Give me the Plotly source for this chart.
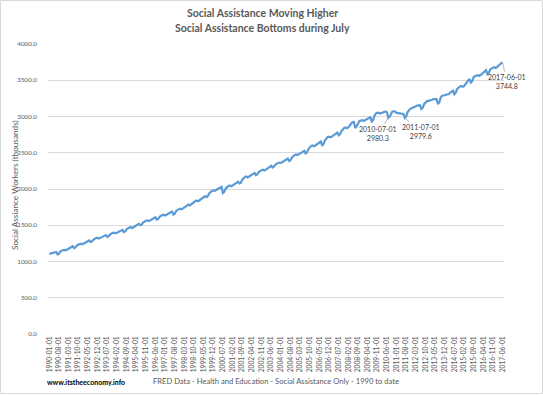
import plotly.graph_objects as go
import pandas as pd

# ---- data (monthly, thousands) ----
dates = [d.strftime("%Y-%m-%d") for d in pd.date_range("1990-01-01", "2017-06-01", freq="MS")]

v1990 = [1105, 1112, 1120, 1128, 1135, 1132, 1098, 1108, 1140, 1152, 1158, 1160]
v1991 = [1155, 1165, 1178, 1190, 1202, 1210, 1185, 1195, 1222, 1235, 1242, 1245]
v1992 = [1238, 1248, 1258, 1270, 1282, 1290, 1270, 1278, 1302, 1318, 1325, 1328]
v1993 = [1318, 1326, 1335, 1348, 1358, 1364, 1340, 1348, 1372, 1388, 1395, 1398]
v1994 = [1388, 1396, 1405, 1418, 1430, 1436, 1405, 1415, 1445, 1460, 1468, 1472]
v1995 = [1462, 1472, 1484, 1498, 1512, 1520, 1500, 1508, 1538, 1555, 1562, 1568]
v1996 = [1558, 1566, 1576, 1590, 1602, 1610, 1578, 1588, 1618, 1632, 1640, 1645]
v1997 = [1635, 1645, 1656, 1670, 1684, 1690, 1648, 1660, 1698, 1714, 1722, 1728]
v1998 = [1720, 1732, 1745, 1762, 1778, 1786, 1775, 1790, 1812, 1826, 1834, 1840]
v1999 = [1832, 1845, 1858, 1875, 1892, 1902, 1888, 1900, 1940, 1960, 1972, 1980]
v2000 = [1975, 1986, 1996, 2008, 2020, 2028, 1945, 1962, 2010, 2030, 2041, 2048]
v2001 = [2038, 2050, 2062, 2078, 2092, 2100, 2077, 2088, 2128, 2150, 2165, 2172]
v2002 = [2160, 2172, 2185, 2200, 2215, 2222, 2192, 2205, 2235, 2252, 2260, 2265]
v2003 = [2255, 2265, 2278, 2295, 2312, 2320, 2296, 2308, 2335, 2352, 2360, 2365]
v2004 = [2360, 2370, 2385, 2400, 2412, 2420, 2386, 2398, 2435, 2455, 2468, 2477]
v2005 = [2468, 2478, 2490, 2505, 2518, 2528, 2491, 2505, 2550, 2575, 2595, 2600]
v2006 = [2590, 2600, 2615, 2632, 2648, 2655, 2605, 2620, 2670, 2700, 2718, 2722]
v2007 = [2712, 2722, 2738, 2755, 2770, 2778, 2741, 2755, 2800, 2825, 2841, 2848]
v2008 = [2838, 2850, 2880, 2910, 2923, 2925, 2841, 2865, 2915, 2938, 2945, 2950]
v2009 = [2938, 2948, 2960, 2975, 2985, 2990, 2932, 2950, 3010, 3040, 3050, 3052]
v2010 = [3040, 3048, 3058, 3068, 3070, 3060, 2980.3, 2995, 3040, 3068, 3072, 3070]
v2011 = [3050, 3045, 3040, 3036, 3040, 3035, 2979.6, 3000, 3060, 3090, 3105, 3115]
v2012 = [3127, 3130, 3140, 3150, 3158, 3155, 3105, 3120, 3170, 3195, 3210, 3215]
v2013 = [3218, 3222, 3230, 3240, 3245, 3240, 3173, 3195, 3260, 3286, 3290, 3295]
v2014 = [3290, 3298, 3310, 3330, 3350, 3355, 3309, 3330, 3380, 3405, 3414, 3420]
v2015 = [3410, 3420, 3440, 3470, 3500, 3510, 3468, 3490, 3545, 3559, 3565, 3570]
v2016 = [3560, 3572, 3590, 3615, 3635, 3640, 3582, 3600, 3650, 3668, 3673, 3680]
v2017 = [3670, 3685, 3705, 3720, 3735, 3744.8]

values = (v1990 + v1991 + v1992 + v1993 + v1994 + v1995 + v1996 + v1997 + v1998 + v1999
          + v2000 + v2001 + v2002 + v2003 + v2004 + v2005 + v2006 + v2007 + v2008 + v2009
          + v2010 + v2011 + v2012 + v2013 + v2014 + v2015 + v2016 + v2017)

tick_labels = dates[::7]

labeled_points = ["2010-07-01", "2011-07-01", "2017-06-01"]

# ---- layout geometry ----
W, H = 543, 395
L, R, T, B = 48, 39, 44, 61
PW, PH = W - L - R, H - T - B


def px(xp):
    return (xp - L) / PW


def py(yp):
    return (H - B - yp) / PH


FONT = "Lato, Open Sans, sans-serif"
GRAY = "#595959"

fig = go.Figure()
fig.add_trace(go.Scatter(
    x=dates, y=values, mode="lines",
    line=dict(color="#5B9BD5", width=2.2),
    hoverinfo="x+y", showlegend=False,
))

annotations = [
    dict(text="<b>Social Assistance Moving Higher</b>", x=px(262), y=py(13), xref="paper", yref="paper",
         showarrow=False, font=dict(family=FONT, size=10.5, color=GRAY), xanchor="center", yanchor="middle"),
    dict(text="<b>Social Assistance Bottoms during July</b>", x=px(262), y=py(28), xref="paper", yref="paper",
         showarrow=False, font=dict(family=FONT, size=10.5, color=GRAY), xanchor="center", yanchor="middle"),
    dict(text="Social Assiance Workers (thousands)", x=px(15), y=py(185), xref="paper", yref="paper",
         textangle=-90, showarrow=False, font=dict(family=FONT, size=8.2, color=GRAY),
         xanchor="center", yanchor="middle"),
    dict(text="FRED Data - Health and Education - Social Assistance Only - 1990 to date",
         x=px(276), y=py(381), xref="paper", yref="paper", showarrow=False,
         font=dict(family=FONT, size=7.6, color=GRAY), xanchor="center", yanchor="middle"),
    dict(text="<b>www.itstheeconomy.info</b>", x=px(45), y=py(382), xref="paper", yref="paper",
         showarrow=False, font=dict(family=FONT, size=7, color="#000000"), xanchor="left", yanchor="middle"),
]

offsets = {"2010-07-01": (-10, 16), "2011-07-01": (16, 14), "2017-06-01": (4, 19)}
for d in labeled_points:
    i = dates.index(d)
    ax, ay = offsets[d]
    annotations.append(dict(
        x=d, y=values[i], xref="x", yref="y",
        text=f"{d}<br>{values[i]:.1f}",
        showarrow=True, arrowhead=0, arrowwidth=0.8, arrowcolor="#a6a6a6",
        ax=ax, ay=ay, font=dict(family=FONT, size=7, color="#404040"),
        align="center",
    ))

fig.update_layout(
    width=W, height=H,
    margin=dict(l=L, r=R, t=T, b=B, autoexpand=False),
    paper_bgcolor="white", plot_bgcolor="white",
    font=dict(family=FONT, color=GRAY),
    annotations=annotations,
    shapes=[dict(type="rect", xref="paper", yref="paper",
                 x0=px(0.5), x1=px(542.5), y0=py(393.5), y1=py(0.5),
                 line=dict(color="#d9d9d9", width=1), layer="below")],
    xaxis=dict(
        type="category", range=[-1, len(dates)],
        tickmode="array", tickvals=tick_labels, ticktext=tick_labels,
        tickangle=-90, tickfont=dict(family=FONT, size=6.7, color=GRAY),
        showgrid=False, showline=False, zeroline=False, ticks="",
    ),
    yaxis=dict(
        range=[0, 4000], dtick=500, tickformat=".1f",
        tickfont=dict(family=FONT, size=6.3, color=GRAY),
        showgrid=True, gridcolor="#d9d9d9", gridwidth=1,
        zeroline=False, showline=False, ticks="", ticklabelstandoff=10,
    ),
)

fig.write_html("out.html", config={"displayModeBar": False},
               post_script="document.body.style.margin='0';document.body.style.overflow='hidden';")
